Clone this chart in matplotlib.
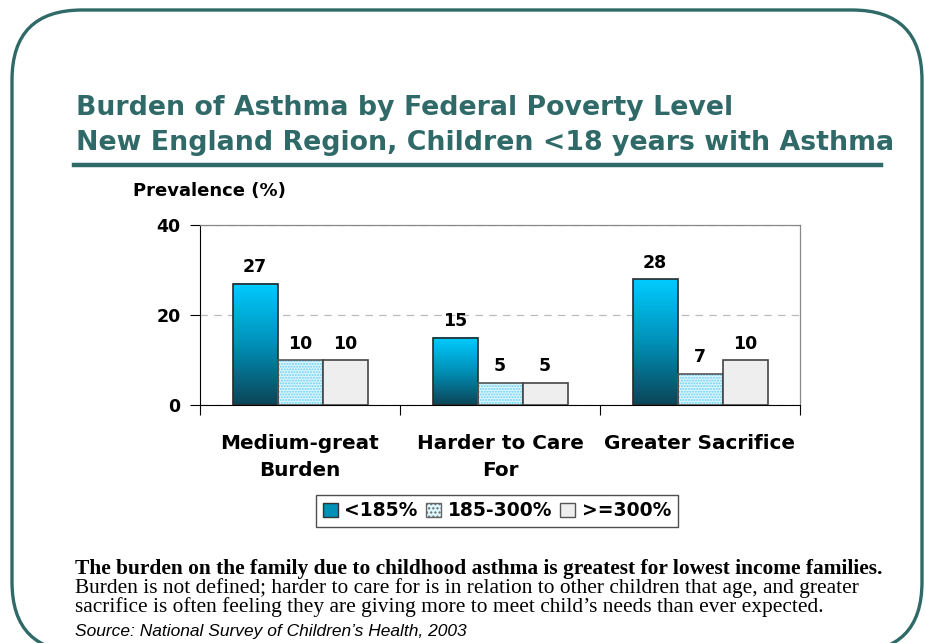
import matplotlib.pyplot as plt
import matplotlib.transforms as mtransforms
import numpy as np
from matplotlib.patches import FancyBboxPatch, Patch
from matplotlib.lines import Line2D
from matplotlib.colors import LinearSegmentedColormap

categories = ['Medium-great\nBurden', 'Harder to Care\nFor', 'Greater Sacrifice']
series_names = ['<185%', '185-300%', '>=300%']
low_income = [27, 15, 28]
mid_income = [10, 5, 7]
high_income = [10, 5, 10]

W, H = 925, 643
teal = '#306A68'
sans = 'DejaVu Sans'
serif = 'Liberation Serif'


def fx(px):
    return px / W


def fy(py):
    return 1 - py / H


fig = plt.figure(figsize=(W / 100, H / 100), dpi=100)

# slide frame with rounded corners, in display pixels
frame = FancyBboxPatch((12, -9), 910, H - 10 + 9,
                       boxstyle='round,pad=0,rounding_size=70',
                       transform=mtransforms.IdentityTransform(),
                       facecolor='none', edgecolor=teal, linewidth=2.4)
fig.patches.append(frame)

fig.text(fx(76), fy(115), 'Burden of Asthma by Federal Poverty Level',
         color=teal, fontsize=19.3, fontweight='bold', family=sans,
         va='baseline')
fig.text(fx(76), fy(150), 'New England Region, Children <18 years with Asthma',
         color=teal, fontsize=19.3, fontweight='bold', family=sans,
         va='baseline')
fig.add_artist(Line2D([fx(74), fx(881)], [fy(165), fy(165)], color=teal,
                      linewidth=3.2, transform=fig.transFigure))
fig.text(fx(133), fy(196), 'Prevalence (%)', fontsize=13, fontweight='bold',
         family=sans, va='baseline')

ax = fig.add_axes([fx(200), fy(405), 600 / W, 180 / H])
x = np.arange(len(categories))
bw = 0.225

# vertical gradient fill for the <185% bars
grad = np.linspace(1, 0, 256).reshape(-1, 1)
cmap = LinearSegmentedColormap.from_list('blu', ['#0B4557', '#0090B8', '#00CCFF'])
for xi, v in zip(x - bw, low_income):
    ax.imshow(grad, extent=[xi - bw / 2, xi + bw / 2, 0, v], aspect='auto',
              cmap=cmap, origin='upper', zorder=2)
ax.bar(x - bw, low_income, bw, facecolor='none', edgecolor='#2A2A2A',
       linewidth=1.2, zorder=3)

ax.bar(x, mid_income, bw, facecolor='#DDF7FF', edgecolor='#6CCDEE',
       hatch='......', linewidth=0, zorder=2)
ax.bar(x, mid_income, bw, facecolor='none', edgecolor='#555555',
       linewidth=1.2, zorder=3)
ax.bar(x + bw, high_income, bw, facecolor='#EEEEEE', edgecolor='#444444',
       linewidth=1.2, zorder=3)

for vals, off in [(low_income, -bw), (mid_income, 0), (high_income, bw)]:
    for xi, v in zip(x + off, vals):
        ax.text(xi, v + 1.6, str(v), ha='center', va='bottom', fontsize=12.5,
                fontweight='bold', family=sans)

ax.set_xlim(-0.5, 2.5)
ax.set_ylim(0, 40)
ax.set_yticks([0, 20, 40])
ax.set_yticklabels(['0', '20', '40'], fontsize=12.5, fontweight='bold',
                   family=sans)
ax.yaxis.grid(True, linestyle=(0, (6, 5)), color='#BBBBBB', linewidth=0.9)
ax.set_axisbelow(True)
ax.set_xticks([-0.5, 0.5, 1.5, 2.5])
ax.set_xticklabels([])
ax.set_xticks(x, minor=True)
ax.set_xticklabels(categories, minor=True, fontsize=14.4, fontweight='bold',
                   family=sans, linespacing=1.5)
ax.tick_params(axis='x', which='minor', length=0, pad=21)
ax.tick_params(axis='x', which='major', length=7, direction='out')
ax.tick_params(axis='y', length=7, direction='out', pad=7)
for s in ['top', 'right']:
    ax.spines[s].set_color('#888888')
    ax.spines[s].set_linewidth(0.9)

handles = [Patch(facecolor='#0090B8', edgecolor='#333333'),
           Patch(facecolor='#DDF7FF', edgecolor='#666666', hatch='....'),
           Patch(facecolor='#EEEEEE', edgecolor='#555555')]
leg = fig.legend(handles, series_names, loc='center',
                 bbox_to_anchor=(fx(497), fy(511)),
                 ncol=3, frameon=True, fancybox=False, edgecolor='#222222',
                 handlelength=0.8, handleheight=0.8, handletextpad=0.35,
                 columnspacing=0.45, borderpad=0.35, borderaxespad=0,
                 prop={'family': sans, 'weight': 'bold', 'size': 13.5})
leg.get_frame().set_linewidth(1.0)

fig.text(fx(75), fy(574), 'The burden on the family due to childhood asthma is greatest for lowest income families.',
         fontsize=15.4, fontweight='bold', family=serif, va='baseline')
fig.text(fx(75), fy(593), 'Burden is not defined; harder to care for is in relation to other children that age, and greater',
         fontsize=15.4, family=serif, va='baseline')
fig.text(fx(75), fy(612), 'sacrifice is often feeling they are giving more to meet child\u2019s needs than ever expected.',
         fontsize=15.4, family=serif, va='baseline')
fig.text(fx(75), fy(636), 'Source: National Survey of Children\u2019s Health, 2003',
         fontsize=12.5, style='italic', family='Liberation Sans', va='baseline')

fig.savefig('out.png', dpi=100)
